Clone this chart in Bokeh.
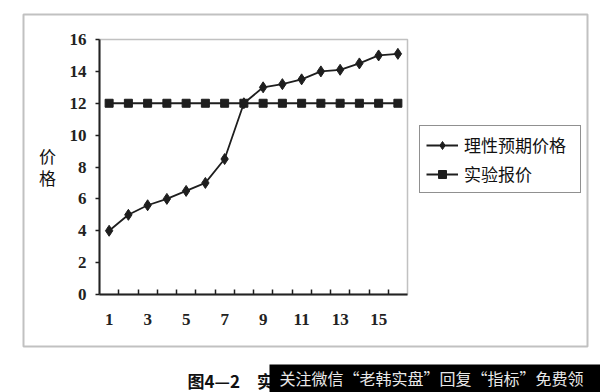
from bokeh.plotting import figure
from bokeh.models import FixedTicker, Legend, LegendItem, Label, BoxAnnotation
from bokeh.embed import file_html
from bokeh.resources import INLINE

# ---- data ----
periods = list(range(1, 17))
rational_expected = [4.0, 5.0, 5.6, 6.0, 6.5, 7.0, 8.5, 12.0, 13.0, 13.2, 13.5, 14.0, 14.1, 14.5, 15.0, 15.1]
experiment_price = [12.0] * 16
y_ticks = [0, 2, 4, 6, 8, 10, 12, 14, 16]
x_label_ticks = [1, 3, 5, 7, 9, 11, 13, 15]
series_names = ["理性预期价格", "实验报价"]
y_title = ["价", "格"]
caption = "图4—2　实验结果"
banner_text = "关注微信“老韩实盘”回复“指标”免费领"

# ---- layout (pixels) ----
W, H = 600, 392
PL, PR, PT, PB = 99, 407, 39, 294          # inner plot box
X0, X1 = periods[0] - 0.5, periods[-1] + 0.5
Y0, Y1 = y_ticks[0], y_ticks[-1]


def px2x(px):
    return X0 + (px - PL) * (X1 - X0) / (PR - PL)


def px2y(py):
    return Y0 + (PB - py) * (Y1 - Y0) / (PB - PT)


CJK = "Noto Sans CJK SC"
SERIF = "Liberation Serif"
INK = "#1e1e1e"

p = figure(width=W, height=H, x_range=(px2x(0), px2x(W)), y_range=(px2y(H), px2y(0)),
           output_backend="svg", toolbar_location=None, min_border=0)
p.grid.visible = False
p.background_fill_color = "white"
p.border_fill_color = "white"
p.outline_line_color = None

# outer frame
p.add_layout(BoxAnnotation(left=px2x(23), right=px2x(587), top=px2y(14), bottom=px2y(346),
                           fill_color=None, line_color="#333333", line_width=2))
# inner plot box
p.add_layout(BoxAnnotation(left=X0, right=X1, bottom=Y0, top=Y1,
                           fill_color=None, line_color="#333333", line_width=1.5))

# x axis: labels at odd periods, tick marks between categories
boundaries = [x + 0.5 for x in periods[:-1]]
p.xaxis.fixed_location = Y0
p.xaxis.bounds = (X0, X1)
p.xaxis.ticker = FixedTicker(ticks=x_label_ticks, minor_ticks=boundaries)
p.xaxis.major_tick_line_color = None
p.xaxis.major_tick_in = 0
p.xaxis.major_tick_out = 0
p.xaxis.minor_tick_in = 5
p.xaxis.minor_tick_out = 0
p.xaxis.minor_tick_line_width = 1.5
p.xaxis.minor_tick_line_color = INK
p.xaxis.major_label_standoff = 19

# y axis
p.yaxis.fixed_location = X0
p.yaxis.bounds = (Y0, Y1)
p.yaxis.ticker = FixedTicker(ticks=y_ticks)
p.yaxis.minor_tick_line_color = None
p.yaxis.major_tick_in = 0
p.yaxis.major_tick_out = 4
p.yaxis.major_tick_line_width = 1.5
p.yaxis.major_tick_line_color = INK
p.yaxis.major_label_standoff = 9

for ax in (p.xaxis, p.yaxis):
    ax.axis_line_width = 2
    ax.axis_line_color = INK
    ax.major_label_text_font = SERIF
    ax.major_label_text_font_size = "17px"
    ax.major_label_text_font_style = "bold"
    ax.major_label_text_color = "#222222"

# series
l1 = p.line(periods, rational_expected, line_color=INK, line_width=1.8)
m1 = p.scatter(periods, rational_expected, marker="diamond", size=11, fill_color=INK, line_color=INK)
l2 = p.line(periods, experiment_price, line_color=INK, line_width=1.8)
m2 = p.scatter(periods, experiment_price, marker="square", size=8, fill_color=INK, line_color=INK)

legend = Legend(items=[LegendItem(label=series_names[0], renderers=[l1, m1]),
                       LegendItem(label=series_names[1], renderers=[l2, m2])],
                location=(419, H - 193))
legend.label_text_font = CJK
legend.label_text_font_size = "17px"
legend.label_text_color = "#111111"
legend.glyph_width = 32
legend.glyph_height = 20
legend.label_standoff = 6
legend.label_width = 110
legend.padding = 6
legend.spacing = 4
legend.margin = 0
legend.border_line_color = "#222222"
legend.border_line_width = 1.5
legend.background_fill_alpha = 1
p.add_layout(legend, "center")

# y title (stacked characters)
for ch, py in zip(y_title, (155, 177)):
    p.add_layout(Label(x=px2x(47), y=px2y(py), text=ch,
                       text_font=CJK, text_font_size="17px", text_align="center",
                       text_baseline="middle", text_color="#111111"))

# caption + watermark banner
p.add_layout(Label(x=px2x(187), y=px2y(380), text=caption,
                   text_font=CJK, text_font_size="17px", text_font_style="bold",
                   text_align="left", text_baseline="middle", text_color="#111111"))
p.add_layout(BoxAnnotation(left=px2x(269), right=px2x(W + 5), top=px2y(364), bottom=px2y(H + 5),
                           fill_color="black", fill_alpha=1, line_color=None))
p.add_layout(Label(x=px2x(279), y=px2y(377), text=banner_text,
                   text_font=CJK, text_font_size="16px",
                   text_align="left", text_baseline="middle", text_color="#e8e8e8"))

open("out.html", "w").write(file_html(p, INLINE))
